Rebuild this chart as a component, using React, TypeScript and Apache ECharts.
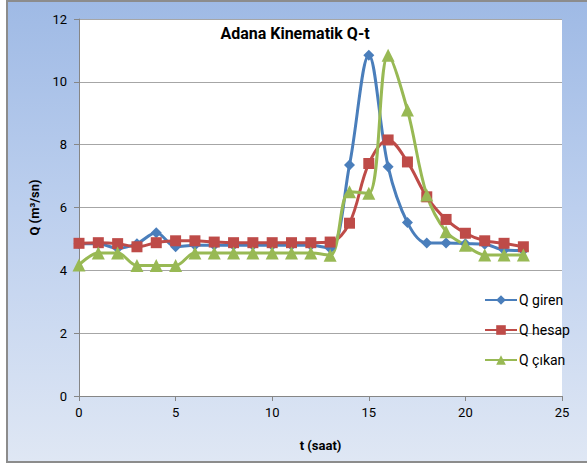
import React, { useEffect, useRef } from "react";
import * as echarts from "echarts";

const hours = [0, 1, 2, 3, 4, 5, 6, 7, 8, 9, 10, 11, 12, 13, 14, 15, 16, 17, 18, 19, 20, 21, 22, 23];
const qGiren = [4.85, 4.85, 4.7, 4.85, 5.2, 4.75, 4.8, 4.8, 4.8, 4.8, 4.8, 4.8, 4.8, 4.7, 7.35, 10.85, 7.3, 5.52, 4.87, 4.87, 4.85, 4.83, 4.65, 4.63];
const qHesap = [4.86, 4.88, 4.85, 4.75, 4.88, 4.94, 4.94, 4.9, 4.88, 4.88, 4.88, 4.88, 4.88, 4.9, 5.5, 7.4, 8.15, 7.45, 6.34, 5.62, 5.18, 4.94, 4.86, 4.75];
const qCikan = [4.17, 4.55, 4.55, 4.15, 4.15, 4.15, 4.55, 4.55, 4.55, 4.55, 4.55, 4.55, 4.55, 4.48, 6.5, 6.45, 10.85, 9.1, 6.4, 5.23, 4.8, 4.49, 4.49, 4.49];
const seriesNames = ["Q giren", "Q hesap", "Q çıkan"];
const titleText = "Adana Kinematik Q-t";
const xName = "t (saat)";
const yName = "Q (m³/sn)";

const FONT = "Roboto, 'Noto Sans', sans-serif";

export default function App() {
  const ref = useRef<HTMLDivElement>(null);
  useEffect(() => {
    if (!ref.current) return;
    const chart = echarts.init(ref.current, undefined, { renderer: "svg" });
    const pairs = (vals: number[]) => hours.map((h, i) => [h, vals[i]]);
    const mk = (name: string, vals: number[], color: string, symbol: string, size: number) => ({
      name,
      type: "line",
      data: pairs(vals),
      smooth: 0.35,
      symbol,
      symbolSize: size,
      lineStyle: { color, width: 3 },
      itemStyle: { color },
      z: 3,
    });
    chart.setOption({
      animation: false,
      backgroundColor: "transparent",
      textStyle: { fontFamily: FONT },
      graphic: [
        {
          type: "text",
          x: 295,
          y: 33,
          style: {
            text: titleText,
            fontFamily: FONT,
            fontSize: 16,
            fontWeight: "bold",
            fill: "#000",
            textAlign: "center",
            textVerticalAlign: "middle",
          },
          z: 10,
        },
      ],
      legend: {
        orient: "vertical",
        left: 479,
        top: 288,
        itemWidth: 32,
        itemHeight: 12,
        itemGap: 16,
        textStyle: { fontFamily: FONT, fontSize: 14, color: "#000", padding: [0, 0, 0, -3] },
        data: seriesNames,
      },
      grid: {
        left: 79,
        right: 25,
        top: 19,
        bottom: 67,
        show: true,
        backgroundColor: "#ffffff",
        borderWidth: 0,
      },
      xAxis: {
        type: "value",
        min: 0,
        max: 25,
        interval: 5,
        name: xName,
        nameLocation: "middle",
        nameGap: 43,
        nameTextStyle: { fontFamily: FONT, fontSize: 13, fontWeight: "bold", color: "#000" },
        axisLine: { show: true, lineStyle: { color: "#868686", width: 1 } },
        axisTick: { show: true, length: 5, lineStyle: { color: "#868686" } },
        axisLabel: { fontFamily: FONT, fontSize: 13, color: "#000", margin: 10 },
        splitLine: { show: false },
      },
      yAxis: {
        type: "value",
        min: 0,
        max: 12,
        interval: 2,
        name: yName,
        nameLocation: "middle",
        nameGap: 38,
        nameRotate: 90,
        nameTextStyle: { fontFamily: FONT, fontSize: 13, fontWeight: "bold", color: "#000" },
        axisLine: { show: true, lineStyle: { color: "#868686", width: 1 } },
        axisTick: { show: true, length: 5, lineStyle: { color: "#868686" } },
        axisLabel: { fontFamily: FONT, fontSize: 13, color: "#000", margin: 12 },
        splitLine: { show: true, lineStyle: { color: "#a6a6a6", width: 1 } },
      },
      series: [
        mk(seriesNames[0], qGiren, "#4a7ebb", "diamond", 11),
        mk(seriesNames[1], qHesap, "#be4b48", "rect", 11),
        mk(seriesNames[2], qCikan, "#98b954", "triangle", 13),
      ],
    });
    return () => chart.dispose();
  }, []);
  return (
    <div style={{ position: "absolute", left: 0, top: 0, width: 587, height: 463, background: "#ffffff" }}>
      <div
        style={{
          position: "absolute",
          left: 6,
          top: 0,
          width: 581,
          height: 463,
          boxSizing: "border-box",
          borderTop: "2px solid #8c8c8c",
          borderLeft: "2px solid #8c8c8c",
          borderBottom: "2px solid #8c8c8c",
          background: "linear-gradient(180deg, #9fbae5 0%, #bccfee 45%, #dfe7f4 100%)",
        }}
      />
      <div ref={ref} style={{ position: "absolute", left: 0, top: 0, width: 587, height: 463 }} />
    </div>
  );
}
